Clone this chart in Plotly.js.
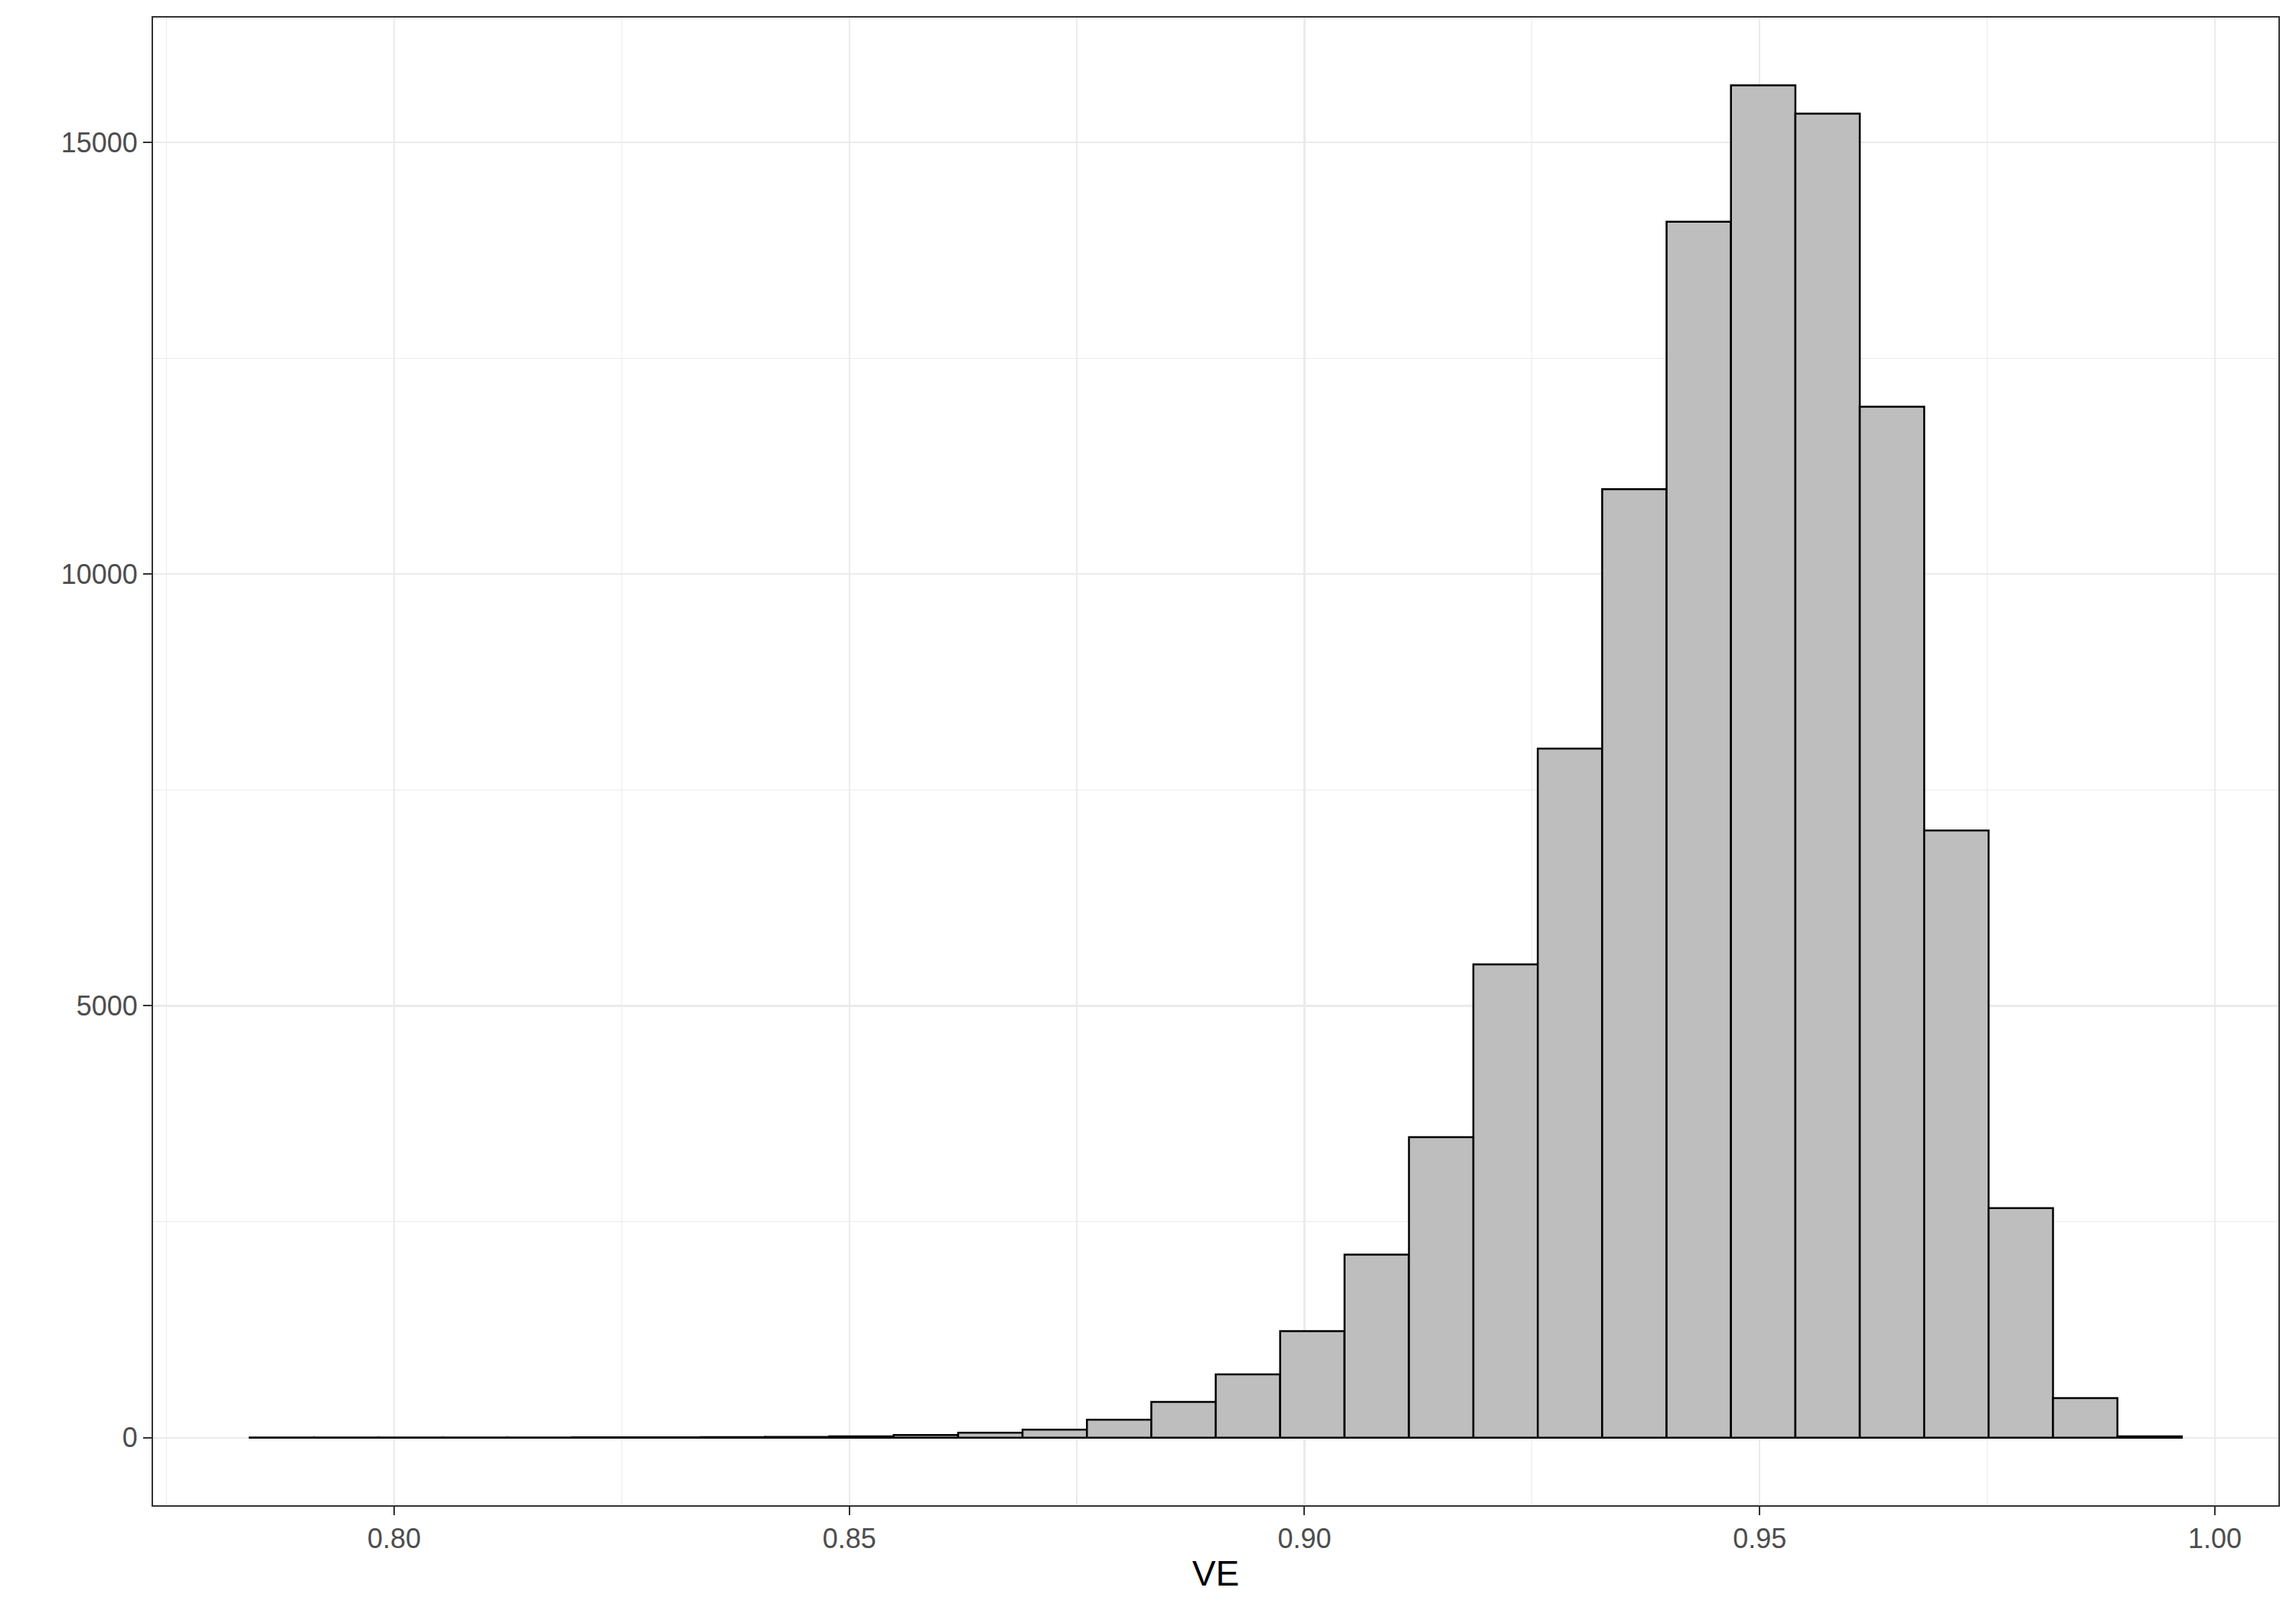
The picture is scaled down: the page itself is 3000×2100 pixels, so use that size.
<!DOCTYPE html>
<html>
<head>
<meta charset="utf-8">
<script src="https://cdn.plot.ly/plotly-3.0.1.min.js"></script>
<style>html,body{margin:0;padding:0;background:#fff;}#chart{width:3000px;height:2100px;}</style>
</head>
<body>
<div id="chart"></div>
<script>
// Histogram of VE: 30 bins
const binStart = 0.78413;
const binWidth = 0.0070747;
const counts = [1, 1, 1, 2, 2, 3, 3, 5, 7, 15,
                30, 56, 92, 207, 413, 732, 1234, 2120, 3481, 5481,
                7980, 10985, 14081, 15662, 15334, 11939, 7032, 2659, 458, 15];
const xTickVals = [0.80, 0.85, 0.90, 0.95, 1.00];
const xTickText = ["0.80", "0.85", "0.90", "0.95", "1.00"];
const yTickVals = [0, 5000, 10000, 15000];
const yTickText = ["0", "5000", "10000", "15000"];
const xTitle = "VE";

const binCenters = counts.map((c, i) => binStart + binWidth * (i + 0.5));

const trace = {
  type: 'bar',
  x: binCenters,
  y: counts,
  width: counts.map(() => binWidth),
  marker: {color: '#BEBEBE', line: {color: '#000000', width: 2.5}},
  hoverinfo: 'x+y'
};

const axisCommon = {
  showline: true, mirror: true, linecolor: '#333333', linewidth: 2,
  ticks: 'outside', ticklen: 11, tickwidth: 2, tickcolor: '#333333',
  showgrid: true, gridcolor: '#EBEBEB', gridwidth: 2.2,
  zeroline: false,
  tickfont: {family: 'Liberation Sans, Arial, sans-serif', size: 36, color: '#4D4D4D'}
};

const layout = {
  width: 3000, height: 2100,
  paper_bgcolor: '#FFFFFF', plot_bgcolor: '#FFFFFF',
  margin: {l: 200, r: 23, t: 23, b: 133, autoexpand: false},
  showlegend: false,
  bargap: 0,
  xaxis: Object.assign({}, axisCommon, {
    range: [0.77352, 1.00698],
    tickmode: 'array', tickvals: xTickVals, ticktext: xTickText,
    minor: {dtick: 0.05, tick0: 0.775, showgrid: true, gridcolor: '#EBEBEB', gridwidth: 1.2, ticks: ''},
    title: {text: xTitle, font: {family: 'Liberation Sans, Arial, sans-serif', size: 46, color: '#000000'}, standoff: 10},
    automargin: false
  }),
  yaxis: Object.assign({}, axisCommon, {
    range: [-783, 16446],
    tickmode: 'array', tickvals: yTickVals, ticktext: yTickText,
    minor: {dtick: 5000, tick0: 2500, showgrid: true, gridcolor: '#EBEBEB', gridwidth: 1.2, ticks: ''},
    automargin: false
  })
};

Plotly.newPlot('chart', [trace], layout, {displayModeBar: false, staticPlot: true});
</script>
</body>
</html>
